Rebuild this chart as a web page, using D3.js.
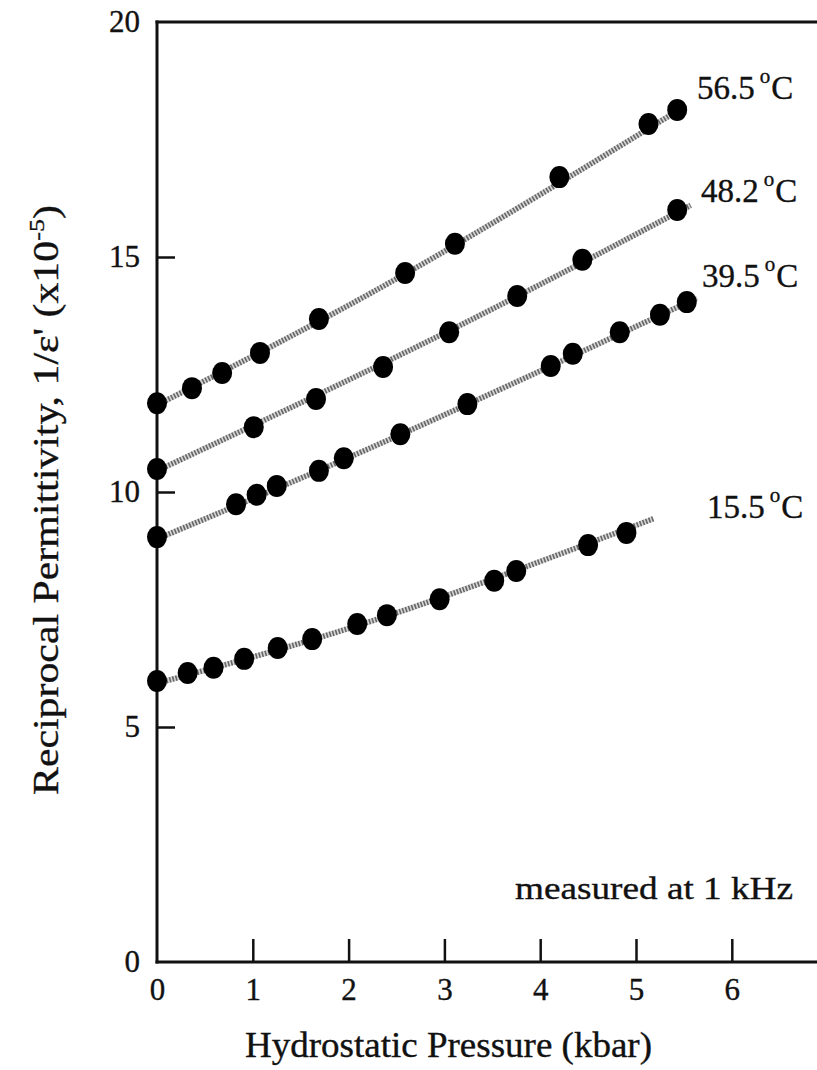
<!DOCTYPE html>
<html>
<head>
<meta charset="utf-8">
<script src="https://cdn.jsdelivr.net/npm/d3@7/dist/d3.min.js"></script>
<style>
  html, body { margin: 0; padding: 0; background: #fff; }
  svg { display: block; }
  text { font-family: "Liberation Serif", "DejaVu Serif", serif; fill: #111; stroke: #111; stroke-width: 0.35; }
</style>
</head>
<body>
<svg id="chart" width="817" height="1070"></svg>
<script>
// ---- Data (pressure in kbar, reciprocal permittivity x1e-5) ----
const seriesNames = ["56.5", "48.2", "39.5", "15.5"];

const p565 = [0, 0.365, 0.68, 1.075, 1.69, 2.59, 3.11, 4.20, 5.13, 5.43];
const v565 = [11.89, 12.21, 12.53, 12.96, 13.68, 14.66, 15.28, 16.70, 17.83, 18.13];

const p482 = [0, 1.01, 1.66, 2.36, 3.05, 3.76, 4.44, 5.43];
const v482 = [10.49, 11.38, 11.98, 12.66, 13.40, 14.17, 14.94, 16.00];

const p395 = [0, 0.825, 1.04, 1.25, 1.69, 1.95, 2.54, 3.24, 4.11, 4.34, 4.83, 5.25, 5.53];
const v395 = [9.04, 9.74, 9.94, 10.13, 10.45, 10.72, 11.23, 11.87, 12.68, 12.94, 13.40, 13.77, 14.04];

const p155 = [0, 0.32, 0.59, 0.91, 1.26, 1.62, 2.09, 2.40, 2.95, 3.52, 3.75, 4.50, 4.90];
const v155 = [5.98, 6.15, 6.26, 6.45, 6.68, 6.87, 7.19, 7.38, 7.72, 8.11, 8.32, 8.87, 9.13];

// fitted-line guide points
const fit565 = [[0, 11.85], [2.59, 14.64], [5.52, 18.22]];
const fit482 = [[0, 10.45], [3.0, 13.38], [5.57, 16.1]];
const fit395 = [[0, 9.0], [2.54, 11.22], [5.64, 14.13]];
const fit155 = [[0, 5.93], [2.4, 7.36], [5.18, 9.43]];

const xTicks = [0, 1, 2, 3, 4, 5, 6];
const yTicks = [0, 5, 10, 15, 20];

const series = [
  { name: seriesNames[0], p: p565, v: v565, fit: fit565 },
  { name: seriesNames[1], p: p482, v: v482, fit: fit482 },
  { name: seriesNames[2], p: p395, v: v395, fit: fit395 },
  { name: seriesNames[3], p: p155, v: v155, fit: fit155 }
];

// ---- Layout ----
const svg = d3.select("#chart");
const W = 817;
const x = d3.scaleLinear().domain([0, 7]).range([157, 157 + 7 * 95.8]);
const y = d3.scaleLinear().domain([0, 20]).range([962, 22]);

// lines
const lineGen = d3.line().x(d => x(d[0])).y(d => y(d[1])).curve(d3.curveNatural);
const gLines = svg.append("g");
series.forEach(s => {
  gLines.append("path").attr("d", lineGen(s.fit))
    .attr("fill", "none").attr("stroke", "#d6d6d6").attr("stroke-width", 5.5);
  gLines.append("path").attr("d", lineGen(s.fit))
    .attr("fill", "none").attr("stroke", "#666").attr("stroke-width", 5.5)
    .attr("stroke-dasharray", "1.6,1.6");
});

// axes
const xAxis = d3.axisBottom(x).tickValues(xTicks).tickSizeInner(-23).tickSizeOuter(0).tickPadding(16)
  .tickFormat(d3.format("d"));
const gx = svg.append("g").attr("transform", `translate(0,${y(0)})`).call(xAxis);
gx.attr("font-family", null).attr("font-size", null);
gx.select(".domain").remove();
gx.selectAll(".tick line").attr("stroke", "#111").attr("stroke-width", 2.5)
  .style("display", d => d === 0 ? "none" : null);
gx.selectAll(".tick text").attr("font-size", 31).attr("fill", "#111");

const yAxis = d3.axisLeft(y).tickValues(yTicks).tickSizeInner(-18).tickSizeOuter(0).tickPadding(17)
  .tickFormat(d3.format("d"));
const gy = svg.append("g").attr("transform", `translate(${x(0)},0)`).call(yAxis);
gy.attr("font-family", null).attr("font-size", null);
gy.select(".domain").remove();
gy.selectAll(".tick line").attr("stroke", "#111").attr("stroke-width", 2.5)
  .style("display", d => (d === 0 || d === 20) ? "none" : null);
gy.selectAll(".tick text").attr("font-size", 31).attr("fill", "#111");

// frame
const frame = svg.append("g").attr("stroke", "#111").attr("stroke-width", 3).attr("fill", "none");
frame.append("line").attr("x1", x(0)).attr("x2", x(0)).attr("y1", y(20) - 1.5).attr("y2", y(0) + 1.5);
frame.append("line").attr("x1", x(0) - 1.5).attr("x2", W).attr("y1", y(20)).attr("y2", y(20));
frame.append("line").attr("x1", x(0) - 1.5).attr("x2", W).attr("y1", y(0)).attr("y2", y(0));

// markers
const gPts = svg.append("g");
series.forEach(s => {
  gPts.selectAll(null).data(s.p.map((p, i) => [p, s.v[i]])).enter()
    .append("ellipse")
    .attr("cx", d => x(d[0])).attr("cy", d => y(d[1]))
    .attr("rx", 10).attr("ry", 11)
    .attr("fill", "#000");
});

// series labels
const labelPos = [
  { xl: 697, yl: 99 },
  { xl: 701, yl: 202 },
  { xl: 702, yl: 287 },
  { xl: 707, yl: 518 }
];
series.forEach((s, i) => {
  const t = svg.append("text").attr("x", labelPos[i].xl).attr("y", labelPos[i].yl)
    .attr("font-size", 33);
  t.append("tspan").text(s.name);
  t.append("tspan").text("o").attr("font-size", 21).attr("dx", 5).attr("dy", -16);
  t.append("tspan").text("C").attr("dx", 1).attr("dy", 16);
});

// note
svg.append("text").attr("x", 515).attr("y", 899).attr("font-size", 32)
  .attr("textLength", 278).attr("lengthAdjust", "spacingAndGlyphs")
  .text("measured at 1 kHz");

// x title
svg.append("text").attr("x", 245).attr("y", 1057).attr("font-size", 35)
  .attr("textLength", 407).attr("lengthAdjust", "spacingAndGlyphs")
  .text("Hydrostatic Pressure (kbar)");

// y title
const yt = svg.append("text")
  .attr("transform", "translate(58,795) rotate(-90)")
  .attr("font-size", 35)
  .attr("textLength", 590).attr("lengthAdjust", "spacingAndGlyphs");
yt.append("tspan").text("Reciprocal Permittivity, 1/ε' (x10");
yt.append("tspan").text("-5").attr("font-size", 22).attr("dy", -14);
yt.append("tspan").text(")").attr("dy", 14);
</script>
</body>
</html>
